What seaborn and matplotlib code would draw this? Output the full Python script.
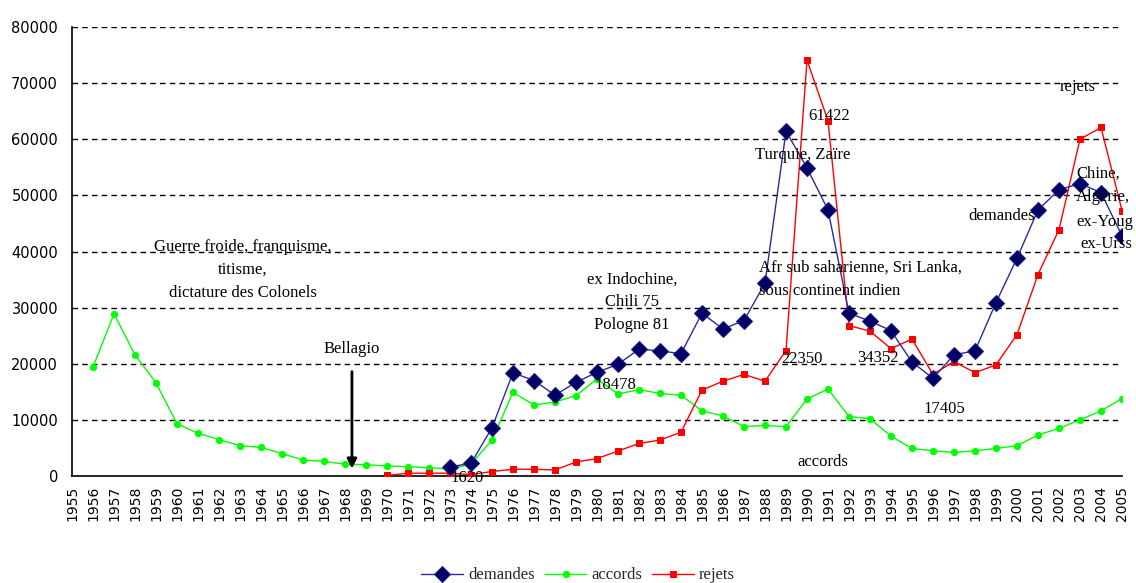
import numpy as np
import pandas as pd
import seaborn as sns
import matplotlib
matplotlib.use("Agg")
import matplotlib.pyplot as plt

# ---------------- data ----------------
years_accords = list(range(1956, 2006))
accords = [19400, 28900, 21600, 16600, 9300, 7600, 6500, 5400, 5100, 4000,
           2850, 2600, 2100, 2000, 1800, 1650, 1500, 1250, 2100, 6400,
           14900, 12650, 13200, 14300, 17300, 14600, 15400, 14700, 14400, 11600,
           10700, 8800, 9000, 8800, 13700, 15500, 10600, 10200, 7100, 4900,
           4500, 4200, 4500, 4900, 5400, 7300, 8500, 10000, 11600, 13800]

years_demandes = list(range(1973, 2006))
demandes = [1620, 2260, 8600, 18400, 17000, 14400, 16700, 18478, 19900, 22600,
            22300, 21800, 29000, 26200, 27700, 34352, 61422, 54900, 47400, 29000,
            27600, 25900, 20300, 17405, 21600, 22300, 30900, 38800, 47400, 51000,
            52100, 50500, 42800]

years_rejets = list(range(1970, 2006))
rejets = [100, 500, 500, 500, 250, 800, 1200, 1200, 1070, 2500,
          3100, 4450, 5800, 6400, 7800, 15300, 16900, 18100, 16900, 22350,
          74100, 63300, 26800, 25800, 22700, 24400, 18100, 20400, 18400, 19800,
          25200, 35900, 43900, 60000, 62100, 47300]

year_ticks = list(range(1955, 2006))
y_ticks = list(range(0, 80001, 10000))

# ---------------- figure ----------------
sns.set_style("white")
plt.rcParams["font.family"] = ["DejaVu Sans"]

fig = plt.figure(figsize=(11.36, 5.83), dpi=100)
ax = fig.add_axes([72 / 1136, 1 - 476 / 583, (1122 - 72) / 1136, (476 - 27) / 583])

sns.lineplot(x=years_demandes, y=demandes, ax=ax, color="#2b2b9a", linewidth=1.0,
             marker="D", markersize=8, markerfacecolor="#000066",
             markeredgecolor="#1a1a80", label="demandes", zorder=4)
sns.lineplot(x=years_accords, y=accords, ax=ax, color="#00ff00", linewidth=1.0,
             marker="o", markersize=4.5, markerfacecolor="#00ff00",
             markeredgecolor="#00ff00", label="accords", zorder=3)
sns.lineplot(x=years_rejets, y=rejets, ax=ax, color="#ff0000", linewidth=1.0,
             marker="s", markersize=5, markerfacecolor="#ff0000",
             markeredgecolor="#ff0000", label="rejets", zorder=3)

ax.set_xlim(1955, 2005)
ax.set_ylim(0, 80000)
ax.set_xticks(year_ticks)
ax.set_xticklabels([str(y) for y in year_ticks], rotation=90, fontsize=10)
ax.set_yticks(y_ticks)
ax.set_yticklabels([str(v) for v in y_ticks], fontsize=10.5)
ax.set_xlabel("")
ax.set_ylabel("")

for v in y_ticks[1:]:
    ax.axhline(v, color="black", linewidth=1.0, linestyle=(0, (4, 3)), zorder=1)

for s in ["top", "right"]:
    ax.spines[s].set_visible(False)
for s in ["left", "bottom"]:
    ax.spines[s].set_color("black")
    ax.spines[s].set_linewidth(1.2)

ax.tick_params(axis="x", direction="inout", length=10, width=1, pad=2, colors="black")
ax.tick_params(axis="y", direction="out", length=6, width=1, pad=4, colors="black")

# ---------------- annotations ----------------
serif = "Liberation Serif"
fs = 12
notes = [
    ("Guerre froide, franquisme,", 1963.14, 40800, "center"),
    ("titisme,", 1963.14, 36700, "center"),
    ("dictature des Colonels", 1963.14, 32600, "center"),
    ("Bellagio", 1968.33, 22630, "center"),
    ("1620", 1973.81, -360, "center"),
    ("ex Indochine,", 1981.67, 34920, "center"),
    ("Chili 75", 1981.67, 31000, "center"),
    ("Pologne 81", 1981.67, 26900, "center"),
    ("18478", 1980.86, 16210, "center"),
    ("61422", 1991.05, 64140, "center"),
    ("Turquie, Zaïre", 1989.81, 57190, "center"),
    ("Afr sub saharienne, Sri Lanka,", 1987.70, 37060, "left"),
    ("sous continent indien", 1987.70, 32960, "left"),
    ("22350", 1989.76, 20850, "center"),
    ("34352", 1993.38, 21020, "center"),
    ("17405", 1996.52, 11940, "center"),
    ("accords", 1990.76, 2490, "center"),
    ("demandes", 1999.29, 46330, "center"),
    ("rejets", 2002.90, 69310, "center"),
    ("Chine,", 2002.81, 53810, "left"),
    ("Algérie,", 2002.81, 49710, "left"),
    ("ex-Youg", 2002.81, 45260, "left"),
    ("ex-Urss", 2003.00, 41340, "left"),
]
for txt, x, y, ha in notes:
    ax.text(x, y, txt, ha=ha, va="center", fontsize=fs, family=serif,
            color="black", zorder=6, clip_on=False)

ax.annotate("", xy=(1968.33, 1300), xytext=(1968.33, 18600),
            arrowprops=dict(arrowstyle="-|>", color="black", lw=2,
                            mutation_scale=14, shrinkA=0, shrinkB=0),
            zorder=6)

# ---------------- legend ----------------
handles, labels = ax.get_legend_handles_labels()
ax.legend(handles, labels, loc="center", bbox_to_anchor=(0.509, 0.013),
          bbox_transform=fig.transFigure, ncol=3, frameon=False,
          prop={"family": serif, "size": 12}, handlelength=2.5,
          handletextpad=0.3, columnspacing=0.6)

fig.savefig("out.png", dpi=100)
